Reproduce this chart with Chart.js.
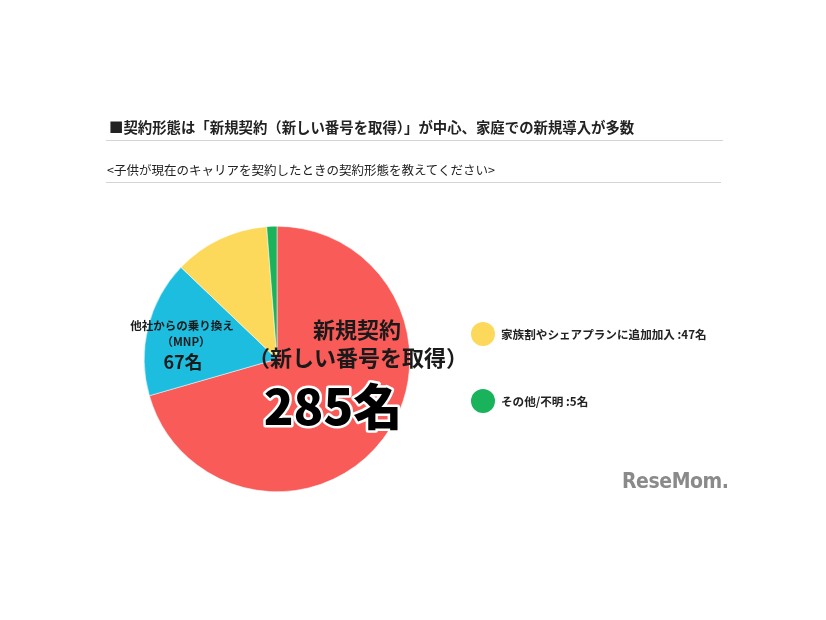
<!DOCTYPE html>
<html>
<head>
<meta charset="utf-8">
<script src="https://cdn.jsdelivr.net/npm/chart.js@4"></script>
<style>
  body { margin: 0; background: #ffffff; font-family: "Noto Sans CJK JP", "Noto Sans", sans-serif; }
  #wrap { position: relative; width: 826px; height: 620px; }
  #chart { position: absolute; left: 0; top: 0; }
  .head { position: absolute; left: 106px; width: 614px; border-bottom: 1px solid #d4d4d4; color: #222; }
  .legend { position: absolute; left: 471px; font-size: 11.6px; font-weight: bold; color: #222; display: flex; align-items: center; }
  .legend span.dot { width: 24px; height: 24px; border-radius: 50%; display: inline-block; margin-right: 6px; }
  #logo { position: absolute; left: 622px; top: 469px; font-family: "DejaVu Sans", sans-serif; font-weight: bold; font-size: 21px; color: #8a8a8a; letter-spacing: -0.5px; transform: scaleX(0.9); transform-origin: left top; }
</style>
</head>
<body>
<div id="wrap">
  <canvas id="chart" width="826" height="620"></canvas>
  <div class="head" style="top:116px; height:24px; font-size:14.4px; font-weight:bold; padding-left:3px;">■契約形態は「新規契約（新しい番号を取得）」が中心、家庭での新規導入が多数</div>
  <div class="head" style="top:160px; height:22px; font-size:12.5px; padding-left:1px;">&lt;子供が現在のキャリアを契約したときの契約形態を教えてください&gt;</div>
  <div class="legend" style="top:322px;"><span class="dot" style="background:#fcd95b"></span>家族割やシェアプランに追加加入 :47名</div>
  <div class="legend" style="top:389px;"><span class="dot" style="background:#19b35b"></span>その他/不明 :5名</div>
  <div id="logo">ReseMom.</div>
</div>
<script>
// data
const categories = ['新規契約（新しい番号を取得）', '他社からの乗り換え（MNP）', '家族割やシェアプランに追加加入', 'その他/不明'];
const counts = [285, 67, 47, 5];
const colors = ['#f95b58', '#1dbde0', '#fcd95b', '#19b35b'];

// labels drawn inside the two big slices
const sliceLabels = {
    id: 'sliceLabels',
    afterDatasetsDraw(chart) {
        const ctx = chart.ctx;
        const arcs = chart.getDatasetMeta(0).data;
        const cx = arcs[0].x, cy = arcs[0].y;
        ctx.save();
        ctx.textAlign = 'center';
        ctx.textBaseline = 'middle';
        ctx.fillStyle = '#1a1a1a';
        const f = "'Noto Sans CJK JP', sans-serif";

        // big slice
        ctx.font = 'bold 22px ' + f;
        ctx.fillText('新規契約', cx + 80, cy - 29);
        ctx.fillText('（新しい番号を取得）', cx + 81, cy - 1);
        ctx.font = '900 49px ' + f;
        ctx.lineWidth = 5;
        ctx.strokeStyle = '#ffffff';
        ctx.lineJoin = 'round';
        ctx.strokeText(counts[0] + '名', cx + 56, cy + 47);
        ctx.fillStyle = '#000000';
        ctx.fillText(counts[0] + '名', cx + 56, cy + 47);

        // MNP slice
        ctx.fillStyle = '#1a1a1a';
        ctx.font = 'bold 11.5px ' + f;
        ctx.fillText('他社からの乗り換え', cx - 95, cy - 33);
        ctx.fillText('（MNP）', cx - 91, cy - 17);
        ctx.font = 'bold 18px ' + f;
        ctx.fillText(counts[1] + '名', cx - 94, cy + 3);
        ctx.restore();
    }
};

new Chart(document.getElementById('chart'), {
    type: 'pie',
    data: {
        labels: categories,
        datasets: [{
            data: counts,
            backgroundColor: colors,
            borderColor: '#ffffff',
            borderWidth: 0.5
        }]
    },
    options: {
        responsive: false,
        animation: false,
        layout: { padding: { left: 144, right: 416, top: 226, bottom: 128 } },
        plugins: {
            legend: { display: false },
            tooltip: { enabled: false }
        }
    },
    plugins: [sliceLabels]
});
</script>
</body>
</html>
